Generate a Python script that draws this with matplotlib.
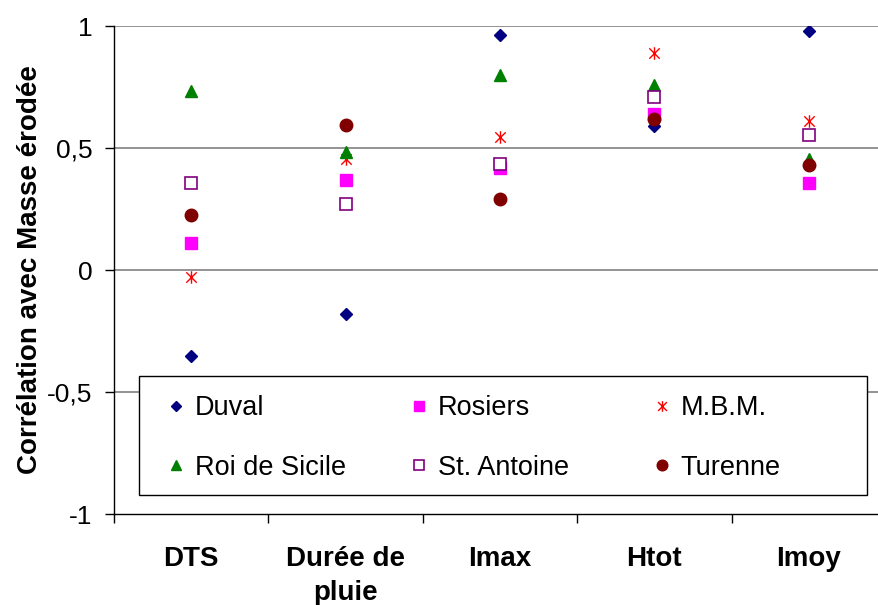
import matplotlib
matplotlib.use("Agg")
import matplotlib.pyplot as plt
from matplotlib.path import Path
from matplotlib.patches import Rectangle

# data
categories = ["DTS", "Durée de\npluie", "Imax", "Htot", "Imoy"]
duval = [-0.35, -0.18, 0.965, 0.59, 0.98]
rosiers = [0.11, 0.37, 0.42, 0.64, 0.355]
mbm = [-0.03, 0.455, 0.545, 0.89, 0.61]
roi_de_sicile = [0.735, 0.485, 0.80, 0.76, 0.455]
st_antoine = [0.355, 0.27, 0.435, 0.71, 0.555]
turenne = [0.225, 0.595, 0.29, 0.62, 0.43]
ytick_values = [-1, -0.5, 0, 0.5, 1]
ytick_labels = ["-1", "-0,5", "0", "0,5", "1"]

plt.rcParams["font.family"] = ["Liberation Sans", "DejaVu Sans"]

W, H = 879, 605
fig = plt.figure(figsize=(W / 100, H / 100), dpi=100)
ax = fig.add_axes([114 / W, 1 - 514.3 / H, 772 / W, (514.3 - 26) / H])

# asterisk marker like excel's (x plus vertical bar)
star = Path([(-1, -1), (1, 1), (-1, 1), (1, -1), (0, -1.2), (0, 1.2)],
            [Path.MOVETO, Path.LINETO, Path.MOVETO, Path.LINETO, Path.MOVETO, Path.LINETO])

x = list(range(1, len(categories) + 1))
h_duval, = ax.plot(x, duval, ls="none", marker="D", ms=6.3, color="#000080", label="Duval", zorder=4)
h_ros, = ax.plot(x, rosiers, ls="none", marker="s", ms=8.5, color="#ff00ff", label="Rosiers", zorder=4)
h_mbm, = ax.plot(x, mbm, ls="none", marker=star, ms=9, mew=1.0, mfc="none", mec="#ff0000", label="M.B.M.", zorder=4)
h_roi, = ax.plot(x, roi_de_sicile, ls="none", marker="^", ms=9, color="#008000", label="Roi de Sicile", zorder=4)
h_sta, = ax.plot(x, st_antoine, ls="none", marker="s", ms=8.5, mfc="white", mec="#800080", mew=1.2, label="St. Antoine", zorder=4)
h_tur, = ax.plot(x, turenne, ls="none", marker="o", ms=9, color="#800000", label="Turenne", zorder=4)

ax.set_xlim(0.5, 5.5)
ax.set_ylim(-1, 1)

ax.set_yticks(ytick_values)
ax.set_yticklabels(ytick_labels, fontsize=19)
ax.tick_params(axis="y", direction="out", length=6.5, width=1, pad=9, color="black")

ax.set_xticks([0.5, 1.5, 2.5, 3.5, 4.5, 5.5])
ax.set_xticklabels([])
ax.set_xticks(x, minor=True)
ax.set_xticklabels(categories, minor=True, fontsize=20, fontweight="bold", linespacing=1.4)
ax.tick_params(axis="x", which="major", direction="out", length=6.5, width=1, color="black")
ax.tick_params(axis="x", which="minor", length=0, pad=23)

for v in [-0.5, 0, 0.5, 1]:
    ax.axhline(v, color="#808080", lw=1.2, zorder=1)

ax.spines["top"].set_visible(False)
ax.spines["right"].set_visible(False)
ax.spines["left"].set_linewidth(1)
ax.spines["bottom"].set_linewidth(1)

fig.text(30 / W, 1 - 270 / H, "Corrélation avec Masse érodée", rotation=90,
         ha="center", va="center", fontsize=20, fontweight="bold")

# legend frame (excel style, wide on the right)
frame = Rectangle((139 / W, 1 - 495 / H), (867 - 139) / W, (495 - 376) / H,
                  transform=fig.transFigure, facecolor="white", edgecolor="black",
                  lw=1, zorder=5, clip_on=False)
ax.add_patch(frame)

# one small legend per column so the columns sit at equal steps like excel
columns = [[h_duval, h_roi], [h_ros, h_sta], [h_mbm, h_tur]]
col_x = [165, 408, 651]
legends = []
for hs, cx in zip(columns, col_x):
    leg = ax.legend(handles=hs, labels=[h.get_label() for h in hs], loc="upper left",
                    bbox_to_anchor=(cx / W, 1 - 395 / H), bbox_transform=fig.transFigure,
                    frameon=False, fontsize=19.5, markerscale=0.85, handlelength=0.8,
                    handletextpad=0.3, labelspacing=1.25, borderpad=0, borderaxespad=0)
    leg.set_zorder(6)
    legends.append(leg)
for leg in legends[:-1]:
    ax.add_artist(leg)

fig.savefig("out.png", dpi=100)
